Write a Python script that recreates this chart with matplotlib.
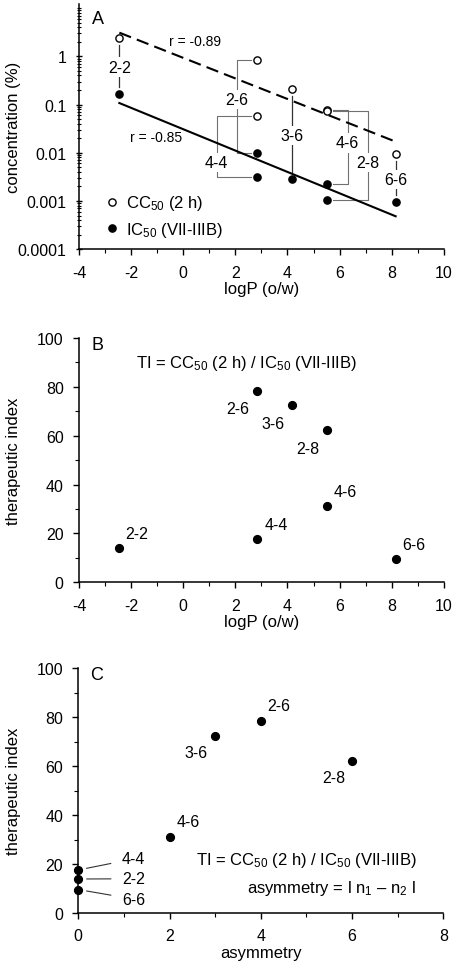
import numpy as np
import matplotlib
matplotlib.use('Agg')
import matplotlib.pyplot as plt
from matplotlib.ticker import MultipleLocator, FixedLocator, NullFormatter
from matplotlib.lines import Line2D

# Data
names = ['2-2', '2-6', '4-4', '3-6', '4-6', '2-8', '6-6']
logp = [-2.45, 2.84, 2.84, 4.17, 5.51, 5.51, 8.15]
cc50 = [2.4, 0.84, 0.057, 0.21, 0.078, 0.072, 0.0095]
ic50 = [0.168, 0.0101, 0.0031, 0.0028, 0.0023, 0.00106, 0.00096]
ti = [13.9, 78.5, 17.6, 72.5, 31.1, 62.2, 9.6]
asym = [0, 4, 0, 3, 2, 6, 0]

# General style
plt.rcParams['font.family'] = ['Liberation Sans', 'DejaVu Sans']
plt.rcParams['mathtext.fontset'] = 'custom'
plt.rcParams['mathtext.rm'] = 'Liberation Sans'
plt.rcParams['mathtext.default'] = 'regular'
plt.rcParams['axes.unicode_minus'] = False
plt.rcParams['font.size'] = 11.5
plt.rcParams['axes.labelsize'] = 12
plt.rcParams['axes.linewidth'] = 1.1

fig = plt.figure(figsize=(4.59, 9.70), dpi=100)
axA = fig.add_axes([0.172, 0.742, 0.795, 0.2526])
axB = fig.add_axes([0.172, 0.3986, 0.795, 0.2519])
axC = fig.add_axes([0.1706, 0.0577, 0.7952, 0.2523])

for ax in (axA, axB, axC):
    ax.spines['top'].set_visible(False)
    ax.spines['right'].set_visible(False)
    ax.tick_params(which='major', direction='out', length=4, width=1, pad=7, labelsize=11.5)
    ax.tick_params(which='minor', direction='out', length=3, width=0.8)
    ax.yaxis.set_label_coords(-0.158, 0.5)

ms = 5.2
gray = '#707070'

# ---- Panel A ----
x = np.array(logp)
lcc = np.log10(cc50)
lic = np.log10(ic50)
xr = np.array([x.min(), x.max()])
p_cc = np.polyfit(x, lcc, 1)
p_ic = np.polyfit(x, lic, 1)
axA.plot(xr, 10 ** np.polyval(p_cc, xr), color='black', lw=1.5, ls=(0, (6, 3)), zorder=3)
axA.plot(xr, 10 ** np.polyval(p_ic, xr), color='black', lw=1.5, zorder=3)
axA.plot(x, cc50, 'o', ms=ms, mfc='white', mec='black', mew=1.0, zorder=6)
axA.plot(x, ic50, 'o', ms=ms, mfc='black', mec='black', zorder=6)

axA.set_yscale('log')
axA.set_xlim(-4, 10)
axA.set_ylim(1e-4, 12)
axA.xaxis.set_major_locator(MultipleLocator(2))
axA.xaxis.set_minor_locator(MultipleLocator(1))
axA.yaxis.set_major_locator(FixedLocator([1e-4, 1e-3, 1e-2, 0.1, 1]))
axA.set_yticklabels(['0.0001', '0.001', '0.01', '0.1', '1'])
minors = [k * 10.0 ** d for d in range(-4, 1) for k in range(2, 10)] + [10]
axA.yaxis.set_minor_locator(FixedLocator(minors))
axA.yaxis.set_minor_formatter(NullFormatter())
axA.tick_params(axis='y', which='both', direction='inout')
axA.set_xlabel('logP (o/w)', labelpad=1)
axA.set_ylabel('concentration (%)')
axA.text(-3.5, 6.2, 'A', fontsize=13, ha='left', va='center')

axA.text(0.45, 2.07, 'r = -0.89', fontsize=10, ha='center', va='center')
axA.text(-1.05, 0.0214, 'r = -0.85', fontsize=10, ha='center', va='center')

# compound labels with connectors
box = dict(fc='white', ec='none', pad=1.5)
lab_pos = {'2-2': (-2.45, 0.6), '2-6': (2.06, 0.125), '4-4': (1.28, 0.0062),
           '3-6': (4.17, 0.0227), '4-6': (6.31, 0.016), '2-8': (7.10, 0.0064),
           '6-6': (8.15, 0.00275)}
bracket_end = {'2-6': 2.62, '4-4': 2.62, '4-6': 5.74, '2-8': 5.74}
for i, n in enumerate(names):
    tx, ty = lab_pos[n]
    if n in bracket_end:
        xe = bracket_end[n]
        axA.plot([xe, tx, tx, xe], [cc50[i], cc50[i], ic50[i], ic50[i]],
                 color=gray, lw=0.8, zorder=2)
    else:
        axA.plot([tx, tx], [cc50[i] / 1.4, ic50[i] * 1.4], color='#333333', lw=0.9, zorder=2)
    axA.text(tx, ty, n, ha='center', va='center', bbox=box, zorder=4)

axA.legend(handles=[Line2D([], [], ls='none', marker='o', ms=ms, mfc='white', mec='black', mew=1.0),
                    Line2D([], [], ls='none', marker='o', ms=ms, mfc='black', mec='black')],
           labels=['CC$_{50}$ (2 h)', 'IC$_{50}$ (VII-IIIB)'],
           loc='lower left', bbox_to_anchor=(0.05, 0.008), frameon=False,
           handlelength=0.8, handletextpad=0.4, labelspacing=0.45, borderpad=0, fontsize=12)

# ---- Panel B ----
axB.plot(logp, ti, 'o', ms=ms + 0.4, color='black', zorder=5)
axB.set_xlim(-4, 10)
axB.set_ylim(0, 100)
axB.xaxis.set_major_locator(MultipleLocator(2))
axB.xaxis.set_minor_locator(MultipleLocator(1))
axB.yaxis.set_major_locator(MultipleLocator(20))
axB.yaxis.set_minor_locator(MultipleLocator(10))
axB.set_xlabel('logP (o/w)', labelpad=1)
axB.set_ylabel('therapeutic index')
axB.text(-3.5, 97.2, 'B', fontsize=13, ha='left', va='center')
axB.text(2.41, 89.8, 'TI = CC$_{50}$ (2 h) / IC$_{50}$ (VII-IIIB)', ha='center', va='center', fontsize=12)
labB = {'2-2': (-1.77, 19.8), '2-6': (2.11, 71.2), '4-4': (3.56, 23.5), '3-6': (3.43, 65.0),
        '4-6': (6.2, 37.2), '2-8': (4.78, 54.6), '6-6': (8.86, 15.6)}
for n in names:
    axB.text(labB[n][0], labB[n][1], n, ha='center', va='center')

# ---- Panel C ----
axC.plot(asym, ti, 'o', ms=ms + 0.4, color='black', zorder=5, clip_on=False)
axC.set_xlim(0, 8)
axC.set_ylim(0, 100)
axC.xaxis.set_major_locator(MultipleLocator(2))
axC.xaxis.set_minor_locator(MultipleLocator(1))
axC.yaxis.set_major_locator(MultipleLocator(20))
axC.yaxis.set_minor_locator(MultipleLocator(10))
axC.set_xlabel('asymmetry', labelpad=1)
axC.set_ylabel('therapeutic index')
axC.text(0.25, 97.5, 'C', fontsize=13, ha='left', va='center')
labC = {'2-6': (4.40, 84.7), '3-6': (2.59, 65.4), '2-8': (5.6, 55.2), '4-6': (2.41, 37.5)}
for i, n in enumerate(names):
    if n in labC:
        axC.text(labC[n][0], labC[n][1], n, ha='center', va='center')
labC0 = {'4-4': (1.21, 22.1), '2-2': (1.21, 14.0), '6-6': (1.21, 5.7)}
for i, n in enumerate(names):
    if n in labC0:
        axC.annotate(n, xy=(asym[i], ti[i]), xytext=labC0[n], ha='center', va='center',
                     arrowprops=dict(arrowstyle='-', color='#333333', lw=0.8, shrinkA=6, shrinkB=6))
axC.text(7.41, 21.8, 'TI = CC$_{50}$ (2 h) / IC$_{50}$ (VII-IIIB)', ha='right', va='center', fontsize=12)
axC.text(7.41, 10.5, 'asymmetry = l n$_1$ \u2013 n$_2$ l', ha='right', va='center', fontsize=12)

fig.savefig('out.png', dpi=100)
